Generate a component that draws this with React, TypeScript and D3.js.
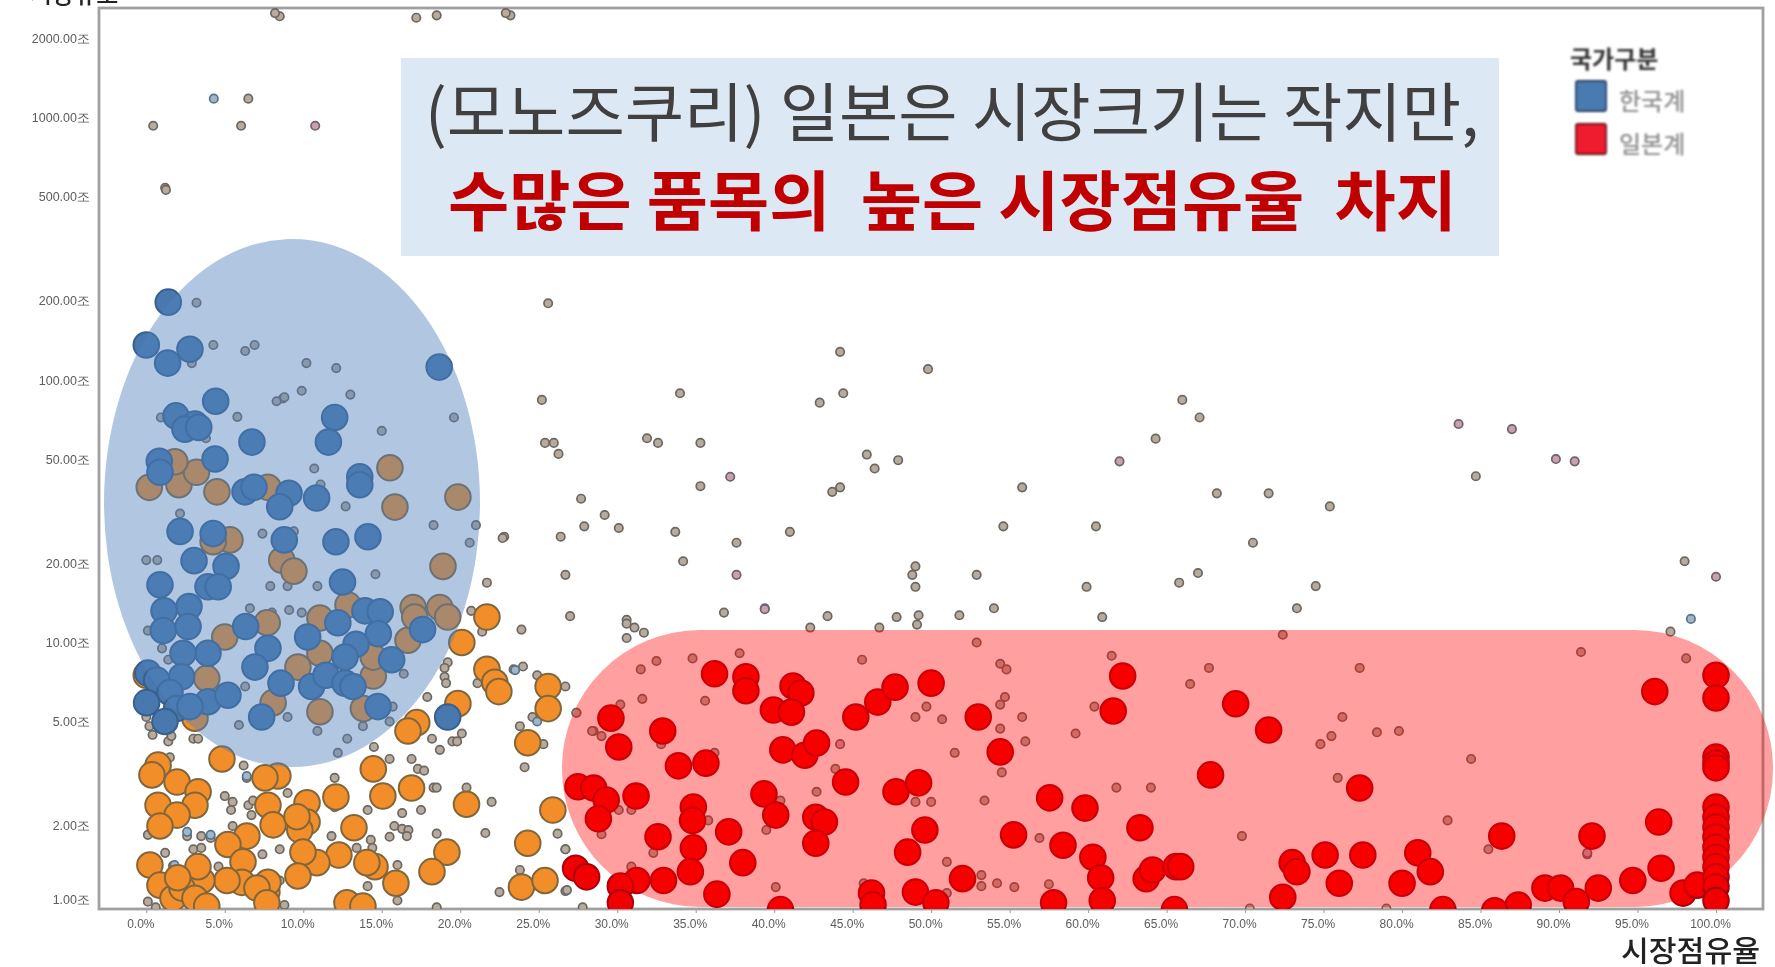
import * as d3 from "d3";
import React, { useEffect, useRef } from "react";

type Pt = [number, number]; // [market share %, market size 조]

const xTicks = d3.range(0, 101, 5);
const yTicks = [1, 2, 5, 10, 20, 50, 100, 200, 500, 1000, 2000];
const legendItems = [
  { label: "한국계", color: "#4a7ab0", border: "#25395c" },
  { label: "일본계", color: "#ee1c2e", border: "#5c1015" },
];

const koreaPoints: Pt[] = [
  [1.4,198],[0,136],[1.36,116],[2.78,131],[18.66,112],[4.42,83],[1.89,73],[3.1,68],[2.46,65],[3.34,66],
  [6.73,58],[12,72],[11.6,58],[4.38,50],[0.83,49],[0.87,44.5],[13.6,42.8],[13.6,39.9],[6.29,37.5],[6.86,39],
  [9.09,37],[8.5,32.9],[10.85,35.5],[2.15,26.5],[4.26,26],[8.79,24.6],[12.08,24.2],[14.12,25.3],[3.04,20.5],[5.08,19.5],
  [0.87,16.6],[12.5,17],[3.93,16.3],[4.58,16.3],[2.72,13.7],[1.13,13.2],[1.08,11.1],[2.66,11.5],[6.33,11.5],[7.75,9.5],
  [10.28,10.5],[12.2,11.9],[13.93,13.2],[14.9,13.1],[14.78,10.8],[13.36,9.85],[12.66,8.8],[15.63,8.6],[17.6,11.2],[3.93,9.1],
  [2.34,9.1],[6.92,8.06],[2.25,7.4],[0.1,7.65],[0.66,7.2],[1.51,6.45],[0.02,5.9],[1.93,5.6],[3.93,5.95],[5.2,6.3],
  [2.78,5.7],[1.19,5],[8.58,7],[10.53,6.8],[11.45,7.5],[12.66,7],[13.17,6.8],[14.76,5.7],[7.35,5.2],[19.2,5.2],
];

const otherPoints: Pt[] = [
  [15.52,46.3],[15.84,32.8],[19.85,35.8],[18.9,19.5],[0.19,39],[2.08,39.9],[3.2,44.5],[4.5,37.5],[1.82,48.8],[7.75,39],
  [5.33,24.6],[4.26,24.2],[8.63,20.6],[9.4,18.7],[5,10.5],[11.06,9.1],[9.66,8.06],[14.46,7.45],[14.46,8.8],[11.06,5.45],
  [8.08,5.9],[3.1,5.15],[3.85,7.3],[13.83,5.6],[17,13.6],[18.7,13.6],[19.2,12.5],[16.67,10.2],[17.1,12.5],[12.85,13.9],
  [11.06,12.4],[7.7,11.9],[0,7.5],[21.7,12.5],[20.1,10],[21.7,7.9],[22.2,7.05],[22.46,6.5],[25.6,6.8],[25.6,5.6],
  [19.85,5.85],[17.23,4.95],[16.67,4.6],[24.3,4.15],[0.75,3.41],[0.36,3.13],[4.82,3.6],[1.96,2.94],[3.3,2.7],[3.1,2.4],
  [0.75,2.4],[1.96,2.2],[0.87,2],[7.75,2.4],[8.08,2.02],[8.38,3.1],[7.56,3.05],[10.24,2.45],[10.24,2.07],[9.78,1.93],
  [9.6,2.17],[12.08,2.58],[15.07,2.6],[16.9,2.79],[13.23,1.97],[20.4,2.42],[25.9,2.3],[24.3,1.72],[19.15,1.59],[18.2,1.34],
  [15.9,1.21],[14.57,1.4],[14.05,1.45],[12.27,1.55],[10.87,1.45],[9.98,1.59],[9.66,1.29],[12.78,1.02],[13.8,0.99],[6.41,1.83],
  [5.2,1.7],[6.16,1.46],[6.09,1.22],[5.14,1.24],[7.68,1.12],[7.75,1.22],[7.05,1.16],[3.54,1.24],[3.29,1.4],[0.23,1.42],
  [0.87,1.19],[1.7,1.06],[2.27,1.16],[2,1.27],[3.1,1.06],[3.85,0.99],[23.9,1.17],[25.4,1.24],[7.68,1.02],[14.46,3.3],
];

const japanPoints: Pt[] = [
  [36.2,7.6],[38.2,7.4],[38.2,6.55],[41.2,6.83],[41.7,6.42],[39.95,5.53],[41.1,5.43],[29.6,5.15],[30.1,4],[32.9,4.6],
  [33.9,3.39],[35.65,3.47],[40.55,3.9],[41.95,3.72],[42.7,4.14],[45.2,5.2],[46.6,5.93],[47.7,6.76],[50,7],[53,5.2],
  [54.4,3.83],[62.2,7.45],[61.6,5.48],[27.5,2.82],[28.5,2.79],[29.3,2.51],[31.2,2.6],[28.8,2.13],[39.35,2.65],[40.1,2.2],
  [44.55,2.94],[47.76,2.7],[49.2,2.92],[34.85,2.36],[34.8,2.1],[37.1,1.9],[32.6,1.82],[42.65,2.16],[43.2,2.07],[42.65,1.72],
  [49.6,1.93],[48.5,1.59],[55.25,1.85],[58.4,1.69],[57.55,2.56],[59.8,2.34],[63.3,1.97],[60.3,1.52],[60.8,1.27],[60.9,1.04],
  [63.7,1.26],[64.1,1.36],[65.6,1.4],[34.85,1.65],[34.66,1.34],[38,1.45],[32.95,1.24],[31.25,1.24],[30.2,1.18],[30.2,1.02],
  [36.35,1.1],[27.35,1.38],[28.05,1.28],[46.2,1.11],[46.3,1],[49,1.12],[50.3,1.02],[52,1.26],[57.8,1.02],[40.4,0.96],
  [65.5,0.96],[69.4,5.84],[71.5,4.64],[67.8,3.13],[77.3,2.79],[65.9,1.4],[73,1.45],[73.3,1.34],[75.1,1.55],[76,1.21],
  [77.5,1.55],[81,1.58],[81.8,1.34],[80,1.21],[72.4,1.07],[86.35,1.83],[87.4,1],[89.1,1.16],[90.1,1.16],[91.1,1.03],
  [92.1,1.83],[92.5,1.16],[94.7,1.24],[96.1,6.5],[96.35,2.07],[96.5,1.38],[97.9,1.11],[98.8,1.19],[100,7.5],[100,6.15],
  [100,3.66],[100,3.47],[100,3.33],[100,2.36],[100,2.16],[100,1.98],[100,1.82],[100,1.66],[100,1.52],[100,1.4],
  [100,1.28],[100,1.17],[100,1.04],[82.6,0.96],[85.9,0.95],
];

const smallPoints: Pt[] = [
  [25.6,196],[44.2,128],[49.8,110],[25.2,84],[34,89],[42.9,82],[44.4,89],[66,84],[67.1,72],[64.3,59.8],
  [84.7,43],[25.4,57.6],[25.96,57.6],[26.26,52.3],[31.9,60],[32.6,57.6],[35.3,57.6],[45.9,52],[46.4,46],[47.9,49.5],
  [35.3,39.4],[44.2,39],[43.7,37.5],[55.8,39],[68.2,37],[71.5,37],[75.4,33],[27.7,35.3],[29.2,30.6],[27.9,27.7],
  [30.1,27.3],[22.8,25.3],[26.4,25.3],[33.7,26.4],[37.6,24],[41,26.4],[54.6,27.7],[60.5,27.7],[70.5,24],[34.2,20.4],
  [26.7,18.1],[49,19.5],[48.8,18.1],[49,16.3],[52.9,18.1],[59.9,16.3],[65.8,16.9],[67,18.4],[74.5,16.4],[73.3,13.5],
  [98,20.4],[27,12.6],[30.6,12.2],[36.8,13],[43.4,12.6],[47.8,12.5],[49.2,12.7],[51.8,12.7],[54,13.5],[60.9,12.5],
  [30.6,11.8],[31.1,11.4],[31.7,10.9],[30.6,10.4],[42.3,11.4],[49.1,11.7],[46.7,11.4],[52.9,10],[45.6,8.6],[37.8,9.1],
  [34.8,8.7],[32.5,8.5],[31.5,7.9],[54.4,8.3],[54.8,7.9],[61.5,8.9],[31.6,6.1],[35.6,6],[30.2,5.8],[27.4,5.4],
  [49.7,5.7],[54.7,6.2],[54.4,5.8],[49,5.2],[50.7,5.1],[55.8,5.2],[60.4,5.7],[28.5,4.6],[29,4.4],[54.4,4.7],
  [59.2,4.5],[56,4.2],[32.8,4.1],[36.2,3.8],[51.5,3.8],[43.9,3.3],[54.5,3.2],[61.8,2.8],[64,2.8],[42.7,2.7],
  [53.4,2.5],[49,2.47],[50,2.47],[40.4,2.5],[30.1,2.3],[30.9,2.3],[35.8,2.1],[39.5,1.93],[29,1.86],[56.9,1.8],
  [26.7,1.63],[32.3,1.58],[51,1.46],[30.9,1.4],[53.2,1.3],[53.2,1.18],[54.2,1.21],[55.3,1.17],[57.5,1.2],[40.1,1.17],
  [45.7,1.21],[51,1.11],[26.7,1.13],[72.4,10.7],[67.7,8],[66.5,6.95],[77.3,8],[91.4,9.2],[97.1,11],[98.1,8.7],
  [76.2,5.2],[75.5,4.4],[74.8,4.1],[78.4,4.55],[79.8,4.6],[84.4,3.6],[75.9,3.05],[82.9,2.1],[69.8,1.83],[85.5,1.63],
  [91.8,1.56],[70.3,0.97],[79,0.97],[6.5,1180],[0.44,930],[6.04,930],[1.2,540],[1.25,530],[3.2,197],[4.27,136],
  [6.3,129],[6.9,136],[10.2,116],[12.1,111],[2.9,116],[9.9,91],[8.7,85],[13,88],[8.5,2430],[8.2,2500],
  [17.2,2400],[18.5,2450],[23.2,2450],[22.9,2500],[8.3,83],[8.8,86],[5.8,72.4],[0.93,72],[19.6,72],[15,64],
  [3.8,60],[10.7,46],[11.1,40],[12.7,33],[2.15,31],[18.3,28],[21,28],[20.6,24],[22.7,25],[7.4,26],
  [9.4,26.5],[0,20.6],[0.7,20.6],[14.6,18.2],[21.7,16.9],[7.9,16.4],[9,16.4],[10.9,16.4],[23.9,11.2],[20.7,13.2],
  [21.4,11],[9.1,13.3],[9.9,13],[6.6,13.5],[8,13],[7.4,12.7],[7.7,11.4],[0.1,11.1],[1,9.5],[1.4,8.6],
  [19.2,8.4],[19,8],[19,7.4],[19.1,7],[23.4,7.9],[24,8.1],[24.9,7.5],[26.7,6.8],[21.1,7],[16.4,7.6],
  [6.3,6.8],[17.9,6.2],[15.7,5.7],[24.6,5.2],[27.4,5.4],[15.5,5],[13.8,4.8],[28.4,4.6],[9,5.2],[5.9,4.85],
  [10.9,4.6],[12.8,4.3],[23.8,4.8],[25.3,4.1],[18.2,4.3],[20.1,4.5],[19.5,4.2],[19.8,4.2],[18.7,3.9],[0,5.2],
  [0.2,4.8],[0.4,4.45],[1.4,4.2],[1.6,4.4],[3,4.3],[3.3,4.3],[12.2,3.8],[14.5,4],[24.1,3.35],[6.2,3.4],
  [1.5,3.65],[15.5,3.6],[16.9,3.6],[17.3,3.3],[17.7,3.25],[6.4,3.05],[9,2.67],[5,2.6],[5.5,2.47],[5.4,2.3],
  [6.5,2.4],[6.8,2.5],[6.7,2.2],[12,3.05],[12,2.36],[14.1,2.3],[16.3,2.24],[17.5,2.3],[18.3,2.8],[18.5,2.8],
  [20.4,2.8],[22,2.47],[15.8,2],[16.3,1.95],[16.7,1.93],[16.6,1.83],[15.5,1.82],[11.8,1.83],[18.5,1.87],[21.6,1.88],
  [26.2,1.87],[0.1,1.85],[2.6,1.83],[3.5,1.83],[4.1,1.8],[5.5,2],[3,1.63],[3.5,1.65],[1.2,1.58],[1.7,1.41],
  [8.5,1.63],[7.4,1.56],[13.4,1.65],[14.3,1.77],[14.4,1.65],[16,1.42],[14.1,1.18],[16,1.04],[23.8,1.36],[26.7,1.63],
  [26.8,1.14],[22.5,1.12],[8.5,1.24],[0.1,1.03],[8.8,1],[18.5,0.98],[4.6,1.4],[27.8,0.98],[0.6,0.98],
];

const smallBluePoints: Pt[] = [
  [4.3,1180],[39.4,13.5],[98.4,12.3],[4.1,1.85],[2.6,1.9],[1.8,1.42],[6.4,3.1],[24.9,5.0],[23.5,7.85],
];

const smallPinkPoints: Pt[] = [
  [10.76,930],[83.6,68],[87,65],[89.8,50],[91,49],[62,49],[37.2,42.8],[37.6,18.1],[39.4,13.4],[100,17.8],
  [44.2,4.1],[91.8,1.58],
];

const W = 1775;
const H = 967;
const plot = { left: 99, right: 1763, top: 8, bottom: 909 };

export default function App() {
  const svgRef = useRef<SVGSVGElement | null>(null);

  useEffect(() => {
    if (!svgRef.current) return;
    const svg = d3.select(svgRef.current);
    svg.selectAll("*").remove();

    const x = d3.scaleLinear().domain([0, 100]).range([146.3, 1716]);
    const y = d3.scaleLog().domain([1, 2000]).range([905, 38.5]);

    const defs = svg.append("defs");
    defs.append("clipPath").attr("id", "plot-clip").append("rect")
      .attr("x", plot.left).attr("y", plot.top)
      .attr("width", plot.right - plot.left).attr("height", plot.bottom - plot.top);
    defs.append("filter").attr("id", "soft").attr("x", "-5%").attr("y", "-5%")
      .attr("width", "110%").attr("height", "110%")
      .append("feGaussianBlur").attr("stdDeviation", 0.65);
    defs.append("filter").attr("id", "softer").attr("x", "-5%").attr("y", "-5%")
      .attr("width", "110%").attr("height", "110%")
      .append("feGaussianBlur").attr("stdDeviation", 0.9);

    svg.append("rect").attr("width", W).attr("height", H).attr("fill", "#fff");

    // axes, drawn blurred like the rest of the screenshot
    const axes = svg.append("g").attr("filter", "url(#soft)")
      .style("font-family", "'Noto Sans CJK KR', 'Noto Sans', sans-serif");

    const xAxis = axes.append("g")
      .attr("transform", `translate(0,${plot.bottom})`)
      .call(d3.axisBottom(x).tickValues(xTicks).tickSize(4).tickFormat((d) => `${(+d).toFixed(1)}%`));
    xAxis.select(".domain").remove();
    xAxis.selectAll("line").attr("stroke", "#999");
    xAxis.selectAll("text")
      .attr("dx", -6).attr("y", 10)
      .attr("fill", "#5c5c5c").style("font-size", "12px").style("font-weight", 500);

    const yAxis = axes.append("g")
      .attr("transform", `translate(${plot.left},0)`)
      .call(d3.axisLeft(y).tickValues(yTicks).tickSize(0).tickFormat((d) => `${(+d).toFixed(2)}조`));
    yAxis.select(".domain").remove();
    yAxis.selectAll("text")
      .attr("x", -9)
      .attr("dy", (d) => (d === 1 ? "-0.1em" : "0.32em"))
      .attr("fill", "#5c5c5c").style("font-size", "12.5px").style("font-weight", 500);

    axes.append("rect")
      .attr("x", plot.left).attr("y", plot.top)
      .attr("width", plot.right - plot.left).attr("height", plot.bottom - plot.top)
      .attr("fill", "none").attr("stroke", "#a0a0a0").attr("stroke-width", 2.8);

    // points
    const marks = svg.append("g").attr("clip-path", "url(#plot-clip)")
      .append("g").attr("filter", "url(#soft)");

    const drawSmall = (data: Pt[], fill: string, stroke: string) => {
      marks.append("g").selectAll("circle").data(data).enter().append("circle")
        .attr("cx", (d) => x(d[0])).attr("cy", (d) => y(d[1])).attr("r", 4.2)
        .attr("fill", fill).attr("stroke", stroke).attr("stroke-width", 1.7);
    };
    const drawBig = (data: Pt[], fill: string, stroke: string) => {
      marks.append("g").selectAll("circle").data(data).enter().append("circle")
        .attr("cx", (d) => x(d[0])).attr("cy", (d) => y(d[1])).attr("r", 12.8)
        .attr("fill", fill).attr("stroke", stroke).attr("stroke-width", 2);
    };

    drawSmall(smallPoints, "#b9ab9c", "#6a6764");
    drawSmall(smallBluePoints, "#a2b6ca", "#56748c");
    drawSmall(smallPinkPoints, "#c9a1ad", "#6f6070");
    drawBig(otherPoints, "#f28e2b", "#80663c");
    drawBig(japanPoints, "#f00000", "#a8000c");
    drawBig(koreaPoints, "#4878ae", "#35608f");

    // highlight shapes sit on top of the points
    svg.append("ellipse")
      .attr("cx", 292).attr("cy", 503).attr("rx", 188).attr("ry", 264)
      .attr("fill", "#4f81bd").attr("fill-opacity", 0.45);
    svg.append("rect")
      .attr("x", 562).attr("y", 630).attr("width", 1211).attr("height", 277).attr("rx", 138)
      .attr("fill", "#ff0000").attr("fill-opacity", 0.375);

    // call-out banner
    svg.append("rect")
      .attr("x", 401).attr("y", 58).attr("width", 1098).attr("height", 198)
      .attr("fill", "#dde8f5");
    svg.append("text")
      .attr("x", 425).attr("y", 136)
      .attr("textLength", 1054).attr("lengthAdjust", "spacingAndGlyphs")
      .attr("fill", "#404040")
      .style("font-family", "'Noto Sans CJK KR', sans-serif")
      .style("font-size", "64px").style("font-weight", 400)
      .text("(모노즈쿠리) 일본은 시장크기는 작지만,");
    svg.append("text")
      .attr("x", 448).attr("y", 225)
      .attr("textLength", 1009).attr("lengthAdjust", "spacingAndGlyphs")
      .attr("fill", "#c00000")
      .attr("xml:space", "preserve")
      .style("white-space", "pre")
      .style("font-family", "'Noto Sans CJK KR', sans-serif")
      .style("font-size", "65px").style("font-weight", 700)
      .text("수많은 품목의  높은 시장점유율  차지");

    // axis titles
    svg.append("text")
      .attr("x", 1621).attr("y", 962)
      .attr("textLength", 139).attr("lengthAdjust", "spacingAndGlyphs")
      .attr("fill", "#222")
      .style("font-family", "'Noto Sans CJK KR', sans-serif")
      .style("font-size", "29px").style("font-weight", 500)
      .text("시장점유율");
    svg.append("text")
      .attr("x", 30).attr("y", 3)
      .attr("fill", "#222")
      .style("font-family", "'Noto Sans CJK KR', sans-serif")
      .style("font-size", "24px").style("font-weight", 500)
      .text("시장규모");

    // legend
    const legend = svg.append("g").attr("filter", "url(#softer)")
      .style("font-family", "'Noto Sans CJK KR', sans-serif");
    legend.append("text")
      .attr("x", 1570).attr("y", 68)
      .attr("fill", "#333")
      .style("font-size", "24px").style("font-weight", 700)
      .text("국가구분");
    legendItems.forEach((item, i) => {
      const top = 81 + i * 43;
      legend.append("rect")
        .attr("x", 1576).attr("y", top).attr("width", 30).attr("height", 30).attr("rx", 2)
        .attr("fill", item.color).attr("stroke", item.border).attr("stroke-width", 1.8);
      legend.append("text")
        .attr("x", 1619).attr("y", top + 29)
        .attr("fill", "#909090")
        .style("font-size", "24px").style("font-weight", 500)
        .text(item.label);
    });
  }, []);

  return (
    <svg
      ref={svgRef}
      width={W}
      height={H}
      style={{ position: "fixed", left: 0, top: 0, display: "block" }}
    />
  );
}
